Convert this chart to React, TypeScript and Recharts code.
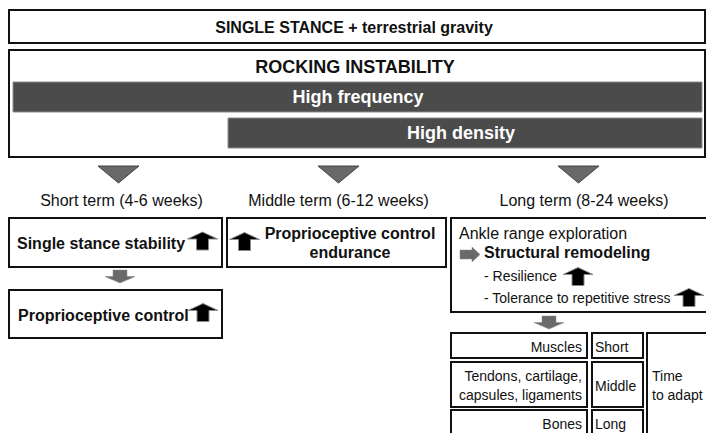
import React from 'react';
import { ComposedChart, XAxis, YAxis, ReferenceArea, Scatter } from 'recharts';

const W = 706;
const H = 433;
const FONT = '"Liberation Sans", Arial, Helvetica, sans-serif';

// ---- text content ----
const headerLabels = ['SINGLE STANCE + terrestrial gravity', 'ROCKING INSTABILITY'];
const barLabels = ['High frequency', 'High density'];
const termLabels = ['Short term (4-6 weeks)', 'Middle term (6-12 weeks)', 'Long term (8-24 weeks)'];
const shortTermLabels = ['Single stance stability', 'Proprioceptive control'];
const middleTermLabels = ['Proprioceptive control', 'endurance'];
const longTermLabels = ['Ankle range exploration', 'Structural remodeling', '- Resilience', '- Tolerance to repetitive stress'];
const tissueLabels = ['Muscles', 'Tendons, cartilage,', 'capsules, ligaments', 'Bones'];
const durationLabels = ['Short', 'Middle', 'Long'];
const adaptLabels = ['Time', 'to adapt'];

// ---- layout (diagram coordinates) ----
type Box = { x1: number; x2: number; y1: number; y2: number; kind: 'frame' | 'bar' };
const boxes: Box[] = [
  { x1: 9, x2: 705, y1: 10, y2: 43, kind: 'frame' },
  { x1: 9, x2: 705, y1: 50, y2: 157, kind: 'frame' },
  { x1: 13, x2: 702, y1: 82, y2: 112, kind: 'bar' },
  { x1: 228, x2: 702, y1: 118, y2: 148, kind: 'bar' },
  { x1: 9, x2: 222, y1: 218, y2: 267, kind: 'frame' },
  { x1: 227, x2: 446, y1: 218, y2: 267, kind: 'frame' },
  { x1: 451, x2: 714, y1: 218, y2: 312, kind: 'frame' },
  { x1: 9, x2: 222, y1: 290, y2: 338, kind: 'frame' },
  { x1: 451, x2: 587, y1: 333, y2: 358, kind: 'frame' },
  { x1: 592, x2: 643, y1: 333, y2: 358, kind: 'frame' },
  { x1: 451, x2: 587, y1: 362, y2: 407, kind: 'frame' },
  { x1: 592, x2: 643, y1: 362, y2: 407, kind: 'frame' },
  { x1: 451, x2: 587, y1: 410, y2: 442, kind: 'frame' },
  { x1: 592, x2: 643, y1: 410, y2: 442, kind: 'frame' },
  { x1: 647, x2: 714, y1: 333, y2: 442, kind: 'frame' },
];

type Mark = { x: number; y: number; kind: 'tri' | 'up' | 'down' | 'right' };
const marks: Mark[] = [
  { x: 118.5, y: 174.5, kind: 'tri' },
  { x: 338.5, y: 174.5, kind: 'tri' },
  { x: 578.5, y: 174.5, kind: 'tri' },
  { x: 202.5, y: 241, kind: 'up' },
  { x: 244.5, y: 241.5, kind: 'up' },
  { x: 203, y: 312.5, kind: 'up' },
  { x: 578, y: 276.5, kind: 'up' },
  { x: 689, y: 297.5, kind: 'up' },
  { x: 120, y: 276.5, kind: 'down' },
  { x: 549, y: 322.5, kind: 'down' },
  { x: 470, y: 254.5, kind: 'right' },
];

type T = { x: number; y: number; text: string; anchor: 'start' | 'middle' | 'end'; size: number; bold?: boolean; white?: boolean };
const texts: T[] = [
  { x: 354, y: 27, text: headerLabels[0], anchor: 'middle', size: 16, bold: true },
  { x: 355, y: 67, text: headerLabels[1], anchor: 'middle', size: 18, bold: true },
  { x: 358, y: 97, text: barLabels[0], anchor: 'middle', size: 18, bold: true, white: true },
  { x: 461, y: 133, text: barLabels[1], anchor: 'middle', size: 18, bold: true, white: true },
  { x: 121.5, y: 200, text: termLabels[0], anchor: 'middle', size: 16 },
  { x: 338.5, y: 200, text: termLabels[1], anchor: 'middle', size: 16 },
  { x: 584, y: 200, text: termLabels[2], anchor: 'middle', size: 16 },
  { x: 17, y: 243, text: shortTermLabels[0], anchor: 'start', size: 16, bold: true },
  { x: 18, y: 315, text: shortTermLabels[1], anchor: 'start', size: 16, bold: true },
  { x: 350, y: 233, text: middleTermLabels[0], anchor: 'middle', size: 16, bold: true },
  { x: 350, y: 252, text: middleTermLabels[1], anchor: 'middle', size: 16, bold: true },
  { x: 459, y: 233, text: longTermLabels[0], anchor: 'start', size: 16 },
  { x: 484, y: 252, text: longTermLabels[1], anchor: 'start', size: 16, bold: true },
  { x: 484, y: 276, text: longTermLabels[2], anchor: 'start', size: 14 },
  { x: 484, y: 298, text: longTermLabels[3], anchor: 'start', size: 14 },
  { x: 582, y: 347, text: tissueLabels[0], anchor: 'end', size: 14 },
  { x: 582, y: 376, text: tissueLabels[1], anchor: 'end', size: 14 },
  { x: 582, y: 395, text: tissueLabels[2], anchor: 'end', size: 14 },
  { x: 582, y: 424, text: tissueLabels[3], anchor: 'end', size: 14 },
  { x: 595, y: 347, text: durationLabels[0], anchor: 'start', size: 14 },
  { x: 595, y: 386, text: durationLabels[1], anchor: 'start', size: 14 },
  { x: 595, y: 424, text: durationLabels[2], anchor: 'start', size: 14 },
  { x: 652, y: 376, text: adaptLabels[0], anchor: 'start', size: 14 },
  { x: 652, y: 395, text: adaptLabels[1], anchor: 'start', size: 14 },
];

const renderMark = (props: any) => {
  const p = props.payload ?? props;
  const cx = props.cx;
  const cy = props.cy;
  if (cx == null || cy == null) return <g />;
  switch (p.kind) {
    case 'tri': {
      const pts = `${cx - 20.5},${cy - 8.5} ${cx + 20.5},${cy - 8.5} ${cx},${cy + 8.5}`;
      return <polygon points={pts} fill="#696969" stroke="#444" strokeWidth={1} />;
    }
    case 'up': {
      const pts = [
        [cx, cy - 9], [cx + 15, cy - 2], [cx + 6, cy - 2], [cx + 6, cy + 9],
        [cx - 6, cy + 9], [cx - 6, cy - 2], [cx - 15, cy - 2],
      ].map((q) => q.join(',')).join(' ');
      return <polygon points={pts} fill="#000" stroke="#8a8a8a" strokeWidth={1} />;
    }
    case 'down': {
      const pts = [
        [cx - 7, cy - 6.5], [cx + 7, cy - 6.5], [cx + 7, cy], [cx + 15, cy],
        [cx, cy + 6.5], [cx - 15, cy], [cx - 7, cy],
      ].map((q) => q.join(',')).join(' ');
      return <polygon points={pts} fill="#6a6a6a" stroke="#888" strokeWidth={0.5} />;
    }
    case 'right': {
      const pts = [
        [cx - 10, cy - 4.5], [cx + 2, cy - 4.5], [cx + 2, cy - 7.5], [cx + 10, cy],
        [cx + 2, cy + 7.5], [cx + 2, cy + 4.5], [cx - 10, cy + 4.5],
      ].map((q) => q.join(',')).join(' ');
      return <polygon points={pts} fill="#6a6a6a" stroke="#888" strokeWidth={0.5} />;
    }
    default:
      return <g />;
  }
};

const renderText = (props: any) => {
  const p = props.payload ?? props;
  const cx = props.cx;
  const cy = props.cy;
  if (cx == null || cy == null) return <g />;
  return (
    <text
      x={cx}
      y={cy}
      textAnchor={p.anchor}
      dominantBaseline="central"
      fontFamily={FONT}
      fontSize={p.size}
      fontWeight={p.bold ? 'bold' : 'normal'}
      fill={p.white ? '#ffffff' : '#111111'}
    >
      {p.text}
    </text>
  );
};

export default function App() {
  return (
    <div style={{ position: 'absolute', left: 0, top: 0, width: W, height: H, background: '#fff', overflow: 'hidden' }}>
      <ComposedChart width={W} height={H} margin={{ top: 0, right: 0, bottom: 0, left: 0 }}>
        <XAxis type="number" dataKey="x" domain={[0, W]} hide allowDataOverflow />
        <YAxis type="number" dataKey="y" domain={[0, H]} reversed hide allowDataOverflow />
        {boxes.map((b, i) => (
          <ReferenceArea
            key={`b${i}`}
            x1={b.x1}
            x2={b.x2}
            y1={b.y1}
            y2={b.y2}
            ifOverflow="visible"
            fill={b.kind === 'bar' ? '#4b4b4b' : '#ffffff'}
            fillOpacity={1}
            stroke={b.kind === 'bar' ? '#8c8c8c' : '#111111'}
            strokeWidth={b.kind === 'bar' ? 1 : 2}
          />
        ))}
        <Scatter data={marks} shape={renderMark} isAnimationActive={false} />
        <Scatter data={texts} shape={renderText} isAnimationActive={false} />
      </ComposedChart>
    </div>
  );
}
